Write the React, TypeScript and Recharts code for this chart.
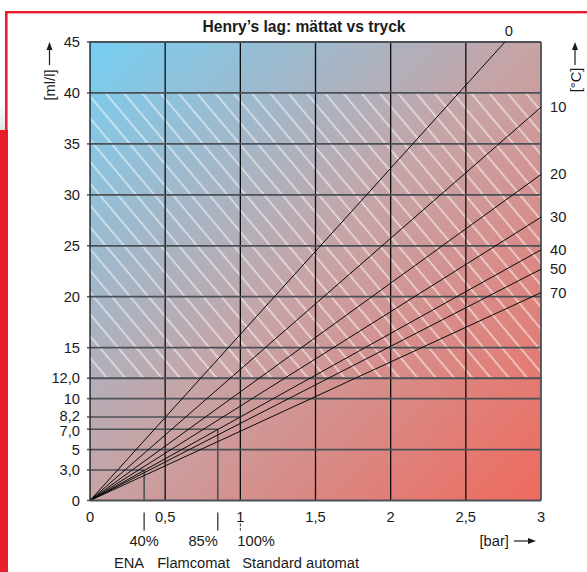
import React from 'react';
import { ComposedChart, Line, XAxis, YAxis, ReferenceLine, ReferenceArea } from 'recharts';

// ---- data ----
const temperatures = ['0', '10', '20', '30', '40', '50', '70'];
const endPressures = [2.76, 3, 3, 3, 3, 3, 3];
const endSolubility = [45, 38.6, 32.0, 27.8, 24.6, 22.7, 20.4];

const xTicks = [0, 0.5, 1, 1.5, 2, 2.5, 3];
const xTickLabels = ['0', '0,5', '1', '1,5', '2', '2,5', '3'];

const markerPressures = [0.36, 0.85, 1];
const markerSolubility = [3.0, 7.0, 8.2];
const markerPercents = ['40%', '85%', '100%'];
const markerNames = ['ENA', 'Flamcomat', 'Standard automat'];

const yTicks = [0, 3, 5, 7, 8.2, 10, 12, 15, 20, 25, 30, 35, 40, 45];
const yTickLabels = ['0', '3,0', '5', '7,0', '8,2', '10', '12,0', '15', '20', '25', '30', '35', '40', '45'];

const majorHorizontal = [5, 10, 12, 15, 20, 25, 30, 35, 40, 45];
const verticalGrid = [0.5, 1, 1.5, 2, 2.5];
const hatchBand = [12, 40];

// ---- styling ----
const FONT = "'Liberation Sans', Arial, Helvetica, sans-serif";
const FS = 14.7;
const TXT = '#1b1b1b';
const GRID_H = '#4b5156';
const RED = '#e91d2b';

const allXTicks = Array.from(new Set([...xTicks, ...markerPressures])).sort((a, b) => a - b);

const percentAnchor = ['middle', 'end', 'start'];
const percentDx = [0, 0, -3];
const nameAnchor = ['end', 'end', 'start'];
const nameDx = [0, 12, 2];

const XTick = (props: any) => {
  const { x, y, payload } = props;
  const v = payload.value;
  const li = xTicks.indexOf(v);
  const mi = markerPressures.indexOf(v);
  return (
    <g fontFamily={FONT} fontSize={FS} fill={TXT}>
      {li >= 0 && (
        <text x={x} y={y + 21} textAnchor="middle" fill={TXT}>
          {xTickLabels[li]}
        </text>
      )}
      {mi >= 0 && v !== 1 && <line x1={x} x2={x} y1={y + 12} y2={y + 30} stroke="#333" strokeWidth={1.3} />}
      {mi >= 0 && v === 1 && (
        <line x1={x} x2={x} y1={y + 23} y2={y + 30} stroke="#333" strokeWidth={1} strokeDasharray="3 1.5" />
      )}
      {mi >= 0 && (
        <text x={x + percentDx[mi]} y={y + 45.5} textAnchor={percentAnchor[mi]} fill={TXT}>
          {markerPercents[mi]}
        </text>
      )}
      {mi >= 0 && (
        <text x={x + nameDx[mi]} y={y + 67.5} textAnchor={nameAnchor[mi]} fill={TXT}>
          {markerNames[mi]}
        </text>
      )}
    </g>
  );
};

const yNudge: Record<string, number> = { '8,2': -1.5, '7,0': 1.5 };

const YTick = (props: any) => {
  const { x, y, payload } = props;
  const i = yTicks.findIndex((t) => Math.abs(t - payload.value) < 1e-6);
  const label = i >= 0 ? yTickLabels[i] : String(payload.value);
  return (
    <text x={x} y={y + (yNudge[label] || 0)} dy="0.355em" textAnchor="end" fontFamily={FONT} fontSize={FS} fill={TXT}>
      {label}
    </text>
  );
};

const tempLabel = (i: number) => (p: any) => {
  if (p.index !== 1) return <g />;
  const top = endPressures[i] < 3;
  return (
    <text
      x={top ? p.x + 4 : p.x + 9}
      y={top ? p.y - 6 : p.y + 5}
      textAnchor={top ? 'middle' : 'start'}
      fontFamily={FONT}
      fontSize={FS}
      fill={TXT}
    >
      {temperatures[i]}
    </text>
  );
};

export default function App() {
  return (
    <div style={{ position: 'absolute', left: 0, top: 0, width: 587, height: 572, background: '#fff' }}>
      <svg width={587} height={572} style={{ position: 'absolute', left: 0, top: 0 }}>
        <defs>
          <linearGradient id="bgGrad" x1="0" y1="0" x2="1" y2="1">
            <stop offset="0%" stopColor="#76cff3" />
            <stop offset="50%" stopColor="#c7a3a5" />
            <stop offset="100%" stopColor="#ef6a5e" />
          </linearGradient>
          <pattern id="hatch" patternUnits="userSpaceOnUse" width="14" height="14" patternTransform="rotate(-40)">
            <line x1="7" y1="-2" x2="7" y2="16" stroke="#ffffff" strokeOpacity={0.75} strokeWidth={1.3} />
          </pattern>
          <linearGradient id="edgeGrad" x1="0" y1="0" x2="0" y2="1">
            <stop offset="0%" stopColor="#ffffff" />
            <stop offset="100%" stopColor="#e4e4e4" />
          </linearGradient>
        </defs>
        <rect x={0} y={100} width={5} height={30} fill="url(#edgeGrad)" />
        <rect x={5} y={11} width={582} height={2.4} fill={RED} />
        <rect x={5} y={11} width={2.6} height={120} fill={RED} />
        <rect x={0} y={130} width={8} height={442} fill={RED} />
        <text x={304} y={31.5} textAnchor="middle" fontFamily={FONT} fontSize={15.6} fontWeight="bold" fill={TXT}>
          Henry’s lag: mättat vs tryck
        </text>
        {/* y-axis title */}
        <text transform="translate(55,85) rotate(-90)" textAnchor="middle" fontFamily={FONT} fontSize={FS} fill={TXT}>
          [ml/l]
        </text>
        <line x1={49.5} x2={49.5} y1={65} y2={48} stroke={TXT} strokeWidth={1.2} />
        <polygon points="49.5,42 46.5,50 52.5,50" fill={TXT} />
        {/* right title */}
        <text transform="translate(580.5,80) rotate(-90)" textAnchor="middle" fontFamily={FONT} fontSize={FS} fill={TXT}>
          [°C]
        </text>
        <line x1={575} x2={575} y1={65} y2={48} stroke={TXT} strokeWidth={1.2} />
        <polygon points="575,42 572,50 578,50" fill={TXT} />
        {/* x-axis title */}
        <text x={479.5} y={546} fontFamily={FONT} fontSize={FS} fill={TXT}>
          [bar]
        </text>
        <line x1={514} x2={530} y1={541} y2={541} stroke={TXT} strokeWidth={1.2} />
        <polygon points="536,541 528,538 528,544" fill={TXT} />
      </svg>
      <div style={{ position: 'absolute', left: 0, top: 0 }}>
        <ComposedChart width={587} height={572} margin={{ top: 42, right: 46, left: 40, bottom: 41.5 }}>
          <XAxis
            type="number"
            dataKey="p"
            domain={[0, 3]}
            ticks={allXTicks}
            interval={0}
            tick={<XTick />}
            tickLine={false}
            tickSize={0}
            tickMargin={0}
            height={30}
            axisLine={{ stroke: GRID_H, strokeWidth: 1.8 }}
          />
          <YAxis
            type="number"
            domain={[0, 45]}
            ticks={yTicks}
            interval={0}
            width={50}
            tickSize={3}
            tickMargin={7}
            tickLine={{ stroke: GRID_H, strokeWidth: 1.5 }}
            tick={<YTick />}
            axisLine={{ stroke: '#111', strokeWidth: 1.3 }}
          />
          <ReferenceArea x1={0} x2={3} y1={0} y2={45} fill="url(#bgGrad)" fillOpacity={1} stroke="none" />
          <ReferenceArea
            x1={0}
            x2={3}
            y1={hatchBand[0]}
            y2={hatchBand[1]}
            fill="url(#hatch)"
            fillOpacity={1}
            stroke="none"
          />
          {verticalGrid.map((v) => (
            <ReferenceLine key={'v' + v} x={v} stroke="#0d0d0d" strokeWidth={1.3} />
          ))}
          {majorHorizontal.map((h) => (
            <ReferenceLine key={'h' + h} y={h} stroke={GRID_H} strokeWidth={1.8} />
          ))}
          <ReferenceLine x={3} stroke={GRID_H} strokeWidth={1.8} />
          {markerPressures.map((p, i) => (
            <ReferenceLine
              key={'mh' + i}
              segment={[
                { x: 0, y: markerSolubility[i] },
                { x: p, y: markerSolubility[i] },
              ]}
              stroke={GRID_H}
              strokeWidth={1.6}
            />
          ))}
          {markerPressures.map((p, i) =>
            p < 1 ? (
              <ReferenceLine
                key={'mv' + i}
                segment={[
                  { x: p, y: 0 },
                  { x: p, y: markerSolubility[i] },
                ]}
                stroke={GRID_H}
                strokeWidth={1.6}
              />
            ) : null
          )}
          {temperatures.map((t, i) => (
            <Line
              key={t}
              data={[
                { p: 0, v: 0 },
                { p: endPressures[i], v: endSolubility[i] },
              ]}
              dataKey="v"
              type="linear"
              stroke="#0a0a0a"
              strokeWidth={1}
              dot={false}
              activeDot={false}
              isAnimationActive={false}
              label={tempLabel(i)}
            />
          ))}
        </ComposedChart>
      </div>
    </div>
  );
}
